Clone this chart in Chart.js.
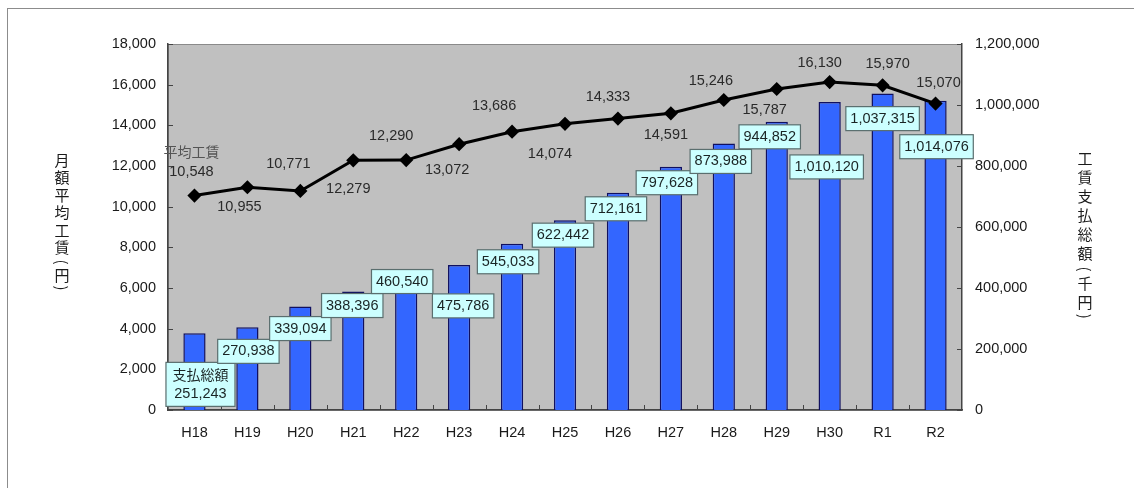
<!DOCTYPE html>
<html lang="ja">
<head>
<meta charset="UTF-8">
<title>月額平均工賃と工賃支払総額の推移</title>
<script src="https://cdn.jsdelivr.net/npm/chart.js@4.4.1/dist/chart.umd.min.js"></script>
<style>
  html, body { margin: 0; padding: 0; background: #fff; overflow: hidden; }
  #wrap { position: relative; width: 1134px; height: 488px; }
  #moldura { position: absolute; left: 7px; top: 8px; width: 1140px; height: 500px; border: 1px solid #8c8c8c; pointer-events: none; }
  canvas { display: block; }
</style>
</head>
<body>
<div id="wrap">
  <canvas id="grafico" width="1134" height="488"></canvas>
  <div id="moldura"></div>
</div>
<script>
// Anos (categorias)
const anos = ['H18', 'H19', 'H20', 'H21', 'H22', 'H23', 'H24', 'H25', 'H26', 'H27', 'H28', 'H29', 'H30', 'R1', 'R2'];

// 月額平均工賃（円）
const salarioMedio = [10548, 10955, 10771, 12279, 12290, 13072, 13686, 14074, 14333, 14591, 15246, 15787, 16130, 15970, 15070];

// 工賃支払総額（千円）
const totalPago = [251243, 270938, 339094, 388396, 460540, 475786, 545033, 622442, 712161, 797628, 873988, 944852, 1010120, 1037315, 1014076];

// Eixos
const eixoEsquerdo = { min: 0, max: 18000, passo: 2000 };
const eixoDireito = { min: 0, max: 1200000, passo: 200000 };

// Títulos verticais dos eixos
const tituloEsquerdo = '月額平均工賃(円)';
const tituloDireito = '工賃支払総額(千円)';
const rotuloLinha = '平均工賃';
const rotuloBarra = '支払総額';

// Deslocamento dos rótulos (px) em relação ao topo da barra / ao ponto
const deslocBarra = [[6, 51], [1, 24], [0, 22], [-1, 14], [-4, 12], [4, 41], [-4, 18], [-2, 15], [-2, 16], [-4, 16], [-3, 18], [-7, 15], [-3, 65], [0, 25], [1, 46]];
const deslocLinha = [[-3, -24], [-8, 20], [-12, -27], [-5, 29], [-15, -24], [-12, 26], [-18, -26], [-15, 30], [-10, -22], [-5, 22], [-13, -19], [-12, 21], [-10, -19], [5, -21], [3, -21]];

const fonteNum = "'Liberation Sans', Arial, sans-serif";
const fonteJp = "'Noto Sans CJK JP', sans-serif";
const formatar = v => v.toLocaleString('en-US');

// Fundo cinza da área do gráfico
const pluginFundo = {
  id: 'fundo',
  beforeDraw(chart) {
    const { ctx, chartArea: a } = chart;
    ctx.save();
    ctx.fillStyle = '#c0c0c0';
    ctx.fillRect(a.left, a.top, a.right - a.left, a.bottom - a.top);
    ctx.strokeStyle = '#8a8a8a';
    ctx.lineWidth = 1;
    ctx.strokeRect(a.left + 0.5, a.top + 0.5, a.right - a.left - 1, a.bottom - a.top);
    ctx.restore();
  },
  // marcas internas dos eixos
  afterDatasetsDraw(chart) {
    const { ctx, chartArea: a, scales } = chart;
    ctx.save();
    ctx.strokeStyle = '#444';
    ctx.lineWidth = 1;
    ctx.beginPath();
    scales.y.ticks.forEach(t => {
      const y = Math.round(scales.y.getPixelForValue(t.value)) + 0.5;
      ctx.moveTo(a.left, y); ctx.lineTo(a.left + 5, y);
    });
    scales.y1.ticks.forEach(t => {
      const y = Math.round(scales.y1.getPixelForValue(t.value)) + 0.5;
      ctx.moveTo(a.right - 5, y); ctx.lineTo(a.right, y);
    });
    const larg = (a.right - a.left) / anos.length;
    for (let i = 1; i < anos.length; i++) {
      const x = Math.round(a.left + i * larg) + 0.5;
      ctx.moveTo(x, a.bottom); ctx.lineTo(x, a.bottom - 5);
    }
    ctx.stroke();
    ctx.restore();
  }
};

// Rótulos de dados (caixas das barras e valores da linha)
const pluginRotulos = {
  id: 'rotulos',
  afterDraw(chart) {
    const ctx = chart.ctx;
    const pontos = chart.getDatasetMeta(0).data;
    const barras = chart.getDatasetMeta(1).data;
    ctx.save();
    ctx.textAlign = 'center';
    ctx.textBaseline = 'middle';

    // caixas das barras
    barras.forEach((b, i) => {
      const linhas = i === 0 ? [rotuloBarra, formatar(totalPago[i])] : [formatar(totalPago[i])];
      const cx = b.x + deslocBarra[i][0];
      const cy = b.y + deslocBarra[i][1];
      ctx.font = '14.5px ' + fonteNum;
      const w = Math.max(...linhas.map(l => ctx.measureText(l).width)) + 9;
      const h = linhas.length * 20 + 4;
      ctx.fillStyle = '#ccffff';
      ctx.fillRect(cx - w / 2, cy - h / 2, w, h);
      ctx.strokeStyle = '#5a6e6e';
      ctx.lineWidth = 1.2;
      ctx.strokeRect(cx - w / 2, cy - h / 2, w, h);
      ctx.fillStyle = '#1a2424';
      linhas.forEach((l, k) => {
        ctx.font = (k === 0 && linhas.length > 1 ? '14px ' + fonteJp : '14.5px ' + fonteNum);
        ctx.fillText(l, cx, cy - h / 2 + 12 + k * 20);
      });
    });

    // valores da linha
    ctx.fillStyle = '#2a2a2a';
    ctx.font = '14.5px ' + fonteNum;
    pontos.forEach((p, i) => {
      ctx.fillText(formatar(salarioMedio[i]), p.x + deslocLinha[i][0], p.y + deslocLinha[i][1]);
    });
    ctx.font = '14px ' + fonteJp;
    ctx.fillStyle = '#555';
    ctx.fillText(rotuloLinha, pontos[0].x - 3, pontos[0].y - 44);

    // títulos verticais
    desenharVertical(ctx, tituloEsquerdo, 62, 160, 17.5);
    desenharVertical(ctx, tituloDireito, 1085, 158, 19);
    ctx.restore();
  }
};

function desenharVertical(ctx, texto, x, y, passo) {
  ctx.font = '15px ' + fonteJp;
  ctx.fillStyle = '#1a1a1a';
  for (const c of texto) {
    if (c === '(' || c === ')') {
      const yy = y + (c === '(' ? -3 : -5);
      ctx.save();
      ctx.translate(x, yy);
      ctx.rotate(Math.PI / 2);
      ctx.fillText(c, 0, 0);
      ctx.restore();
      y += passo * 0.6;
    } else {
      ctx.fillText(c, x, y);
      y += passo;
    }
  }
}

document.addEventListener('DOMContentLoaded', () => {
  const ctx = document.getElementById('grafico').getContext('2d');
  const fonteEixo = { family: fonteNum, size: 14.5 };
  new Chart(ctx, {
    data: {
      labels: anos,
      datasets: [
        {
          type: 'line',
          label: '平均工賃',
          data: salarioMedio,
          yAxisID: 'y',
          borderColor: '#000',
          borderWidth: 3,
          pointStyle: 'rectRot',
          pointRadius: 5,
          pointBackgroundColor: '#000',
          pointBorderColor: '#000',
          tension: 0,
          order: 1
        },
        {
          type: 'bar',
          label: '支払総額',
          data: totalPago,
          yAxisID: 'y1',
          backgroundColor: '#3366ff',
          borderColor: '#101060',
          borderWidth: 1.5,
          barPercentage: 0.42,
          categoryPercentage: 1.0,
          order: 2
        }
      ]
    },
    options: {
      responsive: false,
      animation: false,
      devicePixelRatio: 1,
      layout: { padding: { top: 44, left: 0, right: 0, bottom: 0 } },
      plugins: {
        legend: { display: false },
        tooltip: { enabled: false }
      },
      scales: {
        x: {
          grid: { display: false },
          border: { display: true, color: '#444', width: 1.5 },
          ticks: { color: '#1a1a1a', font: fonteEixo, padding: 6, maxRotation: 0 },
          afterFit: s => { s.height = 78; }
        },
        y: {
          position: 'left',
          min: eixoEsquerdo.min,
          max: eixoEsquerdo.max,
          grid: { display: false, drawTicks: false },
          border: { display: true, color: '#444', width: 1.5 },
          ticks: { stepSize: eixoEsquerdo.passo, color: '#1a1a1a', font: fonteEixo, padding: 12, callback: v => formatar(v) },
          afterFit: s => { s.width = 168; }
        },
        y1: {
          position: 'right',
          min: eixoDireito.min,
          max: eixoDireito.max,
          grid: { display: false, drawTicks: false },
          border: { display: true, color: '#444', width: 1.5 },
          ticks: { stepSize: eixoDireito.passo, color: '#1a1a1a', font: fonteEixo, padding: 13, callback: v => formatar(v) },
          afterFit: s => { s.width = 172; }
        }
      }
    },
    plugins: [pluginFundo, pluginRotulos]
  });
});
</script>
</body>
</html>
